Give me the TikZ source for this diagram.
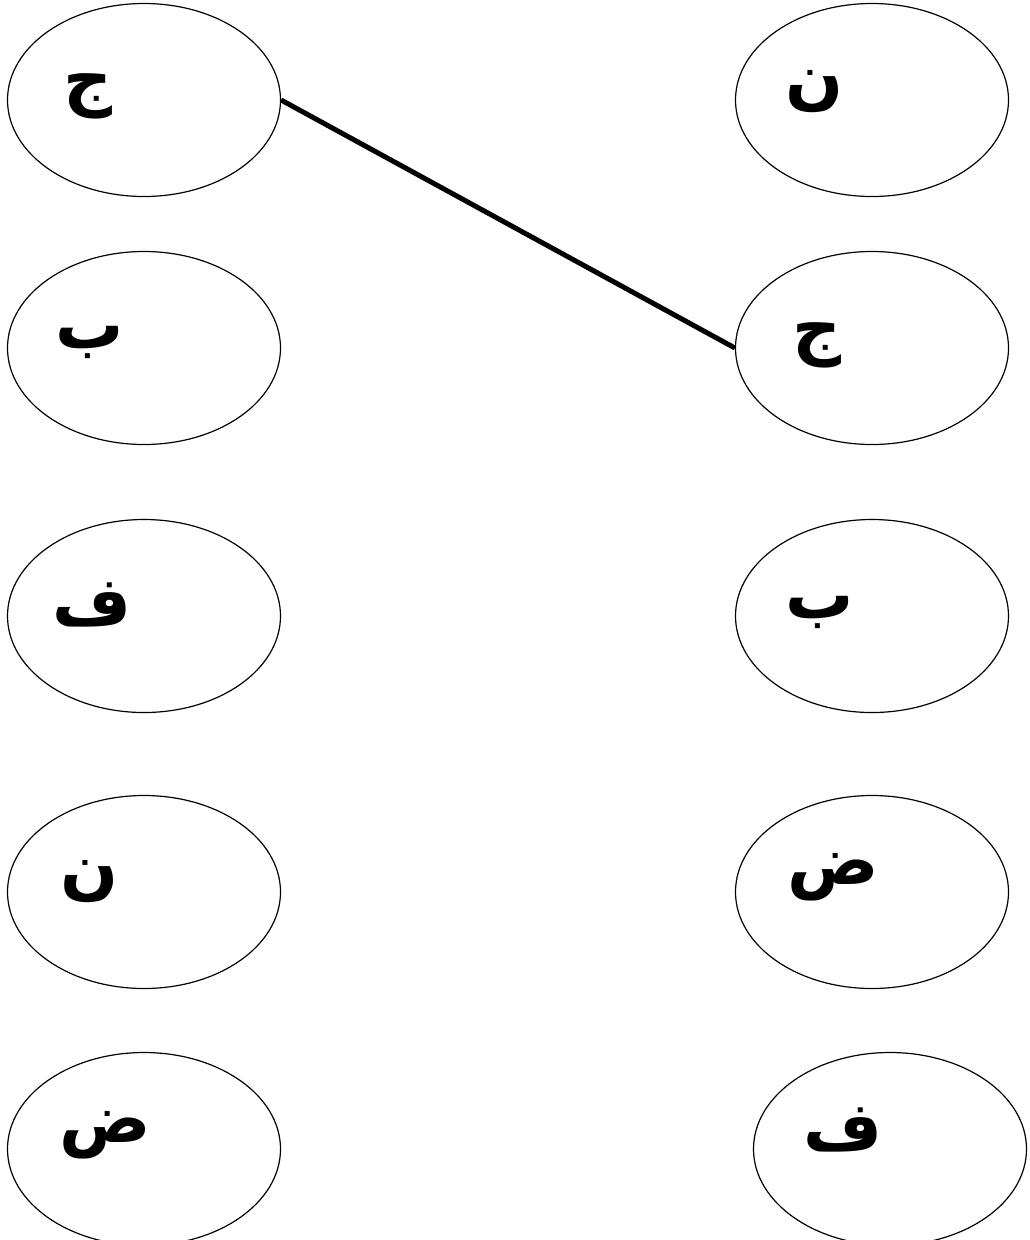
\documentclass[tikz,border=0pt]{standalone}
\usepackage{fontspec}
\TeXXeTstate=1
\newfontfamily\arabicfont[Script=Arabic]{DejaVu Sans}
\usetikzlibrary{shapes.geometric}
\begin{document}
\begin{tikzpicture}[x=1pt,y=-1pt,
  oval/.style={draw=black,line width=1.2pt,ellipse,minimum width=273pt,minimum height=193pt,inner sep=0pt},
  letter/.style={font=\arabicfont\bfseries\fontsize{68}{70}\selectfont,inner sep=0pt},
  link/.style={line width=5pt,black}]
\useasboundingbox (0,0) rectangle (1030,1240);
\node[oval] (l1) at (144,100) {};
\node[oval] (l2) at (144,348) {};
\node[oval] (l3) at (144,616) {};
\node[oval] (l4) at (144,892) {};
\node[oval] (l5) at (144,1149) {};
\node[oval] (r1) at (872,100) {};
\node[oval] (r2) at (872,348) {};
\node[oval] (r3) at (872,616) {};
\node[oval] (r4) at (872,892) {};
\node[oval] (r5) at (890,1149) {};
\node[letter] (tl1) at (88,96) {\beginR ج\endR};
\node[letter] (tl2) at (90,342) {\beginR ب\endR};
\node[letter] (tl3) at (92,605) {\beginR ف\endR};
\node[letter] (tl4) at (90,882) {\beginR ن\endR};
\node[letter] (tl5) at (105,1135) {\beginR ض\endR};
\node[letter] (tr1) at (815,92) {\beginR ن\endR};
\node[letter] (tr2) at (817,345) {\beginR ج\endR};
\node[letter] (tr3) at (820,612) {\beginR ب\endR};
\node[letter] (tr4) at (833,877) {\beginR ض\endR};
\node[letter] (tr5) at (843,1130) {\beginR ف\endR};
\draw[link] (l1.east) -- (r2.west);
\end{tikzpicture}
\end{document}
